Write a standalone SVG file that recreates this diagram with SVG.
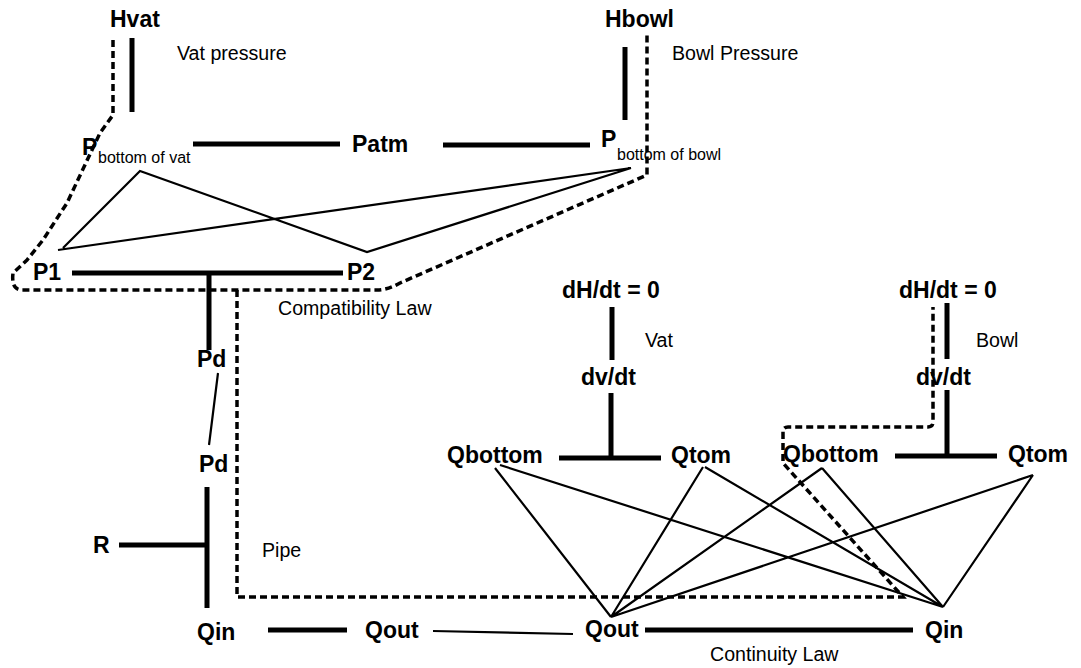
<svg xmlns="http://www.w3.org/2000/svg" width="1081" height="668" viewBox="0 0 1081 668">
<style>
.b{font-family:"Liberation Sans",Arial,sans-serif;font-weight:bold;font-size:23px;fill:#000}
.r{font-family:"Liberation Sans",Arial,sans-serif;font-size:19.6px;fill:#000}
.s{font-family:"Liberation Sans",Arial,sans-serif;font-size:16px;fill:#000}
.k{stroke:#000;stroke-width:5;fill:none}
.t{stroke:#000;stroke-width:2.2;fill:none}
.d{stroke:#000;stroke-width:3.5;fill:none;stroke-dasharray:7 4}
</style>
<rect width="1081" height="668" fill="#fff"/>
<g id="connectors">
<path class="k" d="M132,38V112M625,47V120M193,144H340M443,145H590M72,273H343M209,273V350M207,487V608M119,545H207M268,630H347M645,630H913M612,307V360M611,393V458M559,458H661M947,303V359M947,390V456M895,456H997"/>
<path class="t" d="M63,248L140,171L367,252L631,168M58,250L631,168"/>
<path class="t" stroke-width="1.5" d="M218,373L209,445"/>
<path class="t" stroke-width="2" d="M433,631L573,634"/>
<path class="t" d="M495,468L611,617M500,465L943,607M703,467L611,617M705,467L943,607M822,468L611,617M822,468L943,607M1033,475L611,617M1033,475L943,607"/>
<path class="d" d="M113,40V115L100,133L67,203L43,240L27,260L13,273Q11,290 22,290H377Q388,290 400,283L647,175V33"/>
<path class="d" d="M237,290V597H903L783,463V432Q783,427 788,427H928Q933,427 933,422V307"/>
</g>
<g id="n-hvat"><text class="b" x="110" y="27">Hvat</text></g>
<g id="n-hbowl"><text class="b" x="605" y="27">Hbowl</text></g>
<g id="l-vatpressure"><text class="r" x="177" y="60">Vat pressure</text></g>
<g id="l-bowlpressure"><text class="r" x="672" y="60">Bowl Pressure</text></g>
<g id="n-pvat"><text class="b" x="82" y="155">P</text><text class="s" x="98" y="163">bottom of vat</text></g>
<g id="n-patm"><text class="b" x="352" y="152">Patm</text></g>
<g id="n-pbowl"><text class="b" x="601" y="147">P</text><text class="s" x="617" y="160">bottom of bowl</text></g>
<g id="n-p1"><text class="b" x="33" y="280">P1</text></g>
<g id="n-p2"><text class="b" x="347" y="280">P2</text></g>
<g id="l-compat"><text class="r" x="278" y="315">Compatibility Law</text></g>
<g id="n-pd1"><text class="b" x="197" y="367">Pd</text></g>
<g id="n-pd2"><text class="b" x="199" y="472">Pd</text></g>
<g id="n-r"><text class="b" x="93" y="553">R</text></g>
<g id="l-pipe"><text class="r" x="262" y="557">Pipe</text></g>
<g id="n-qin1"><text class="b" x="197" y="640">Qin</text></g>
<g id="n-qout1"><text class="b" x="365" y="638">Qout</text></g>
<g id="n-qout2"><text class="b" x="585" y="637">Qout</text></g>
<g id="n-qin2"><text class="b" x="925" y="638">Qin</text></g>
<g id="l-continuity"><text class="r" x="710" y="661">Continuity Law</text></g>
<g id="n-dhdt1"><text class="b" x="562" y="298">dH/dt = 0</text></g>
<g id="l-vat"><text class="r" x="645" y="347">Vat</text></g>
<g id="n-dvdt1"><text class="b" x="581" y="385">dv/dt</text></g>
<g id="n-qbottom1"><text class="b" x="447" y="463">Qbottom</text></g>
<g id="n-qtom1"><text class="b" x="671" y="463">Qtom</text></g>
<g id="n-dhdt2"><text class="b" x="899" y="298">dH/dt = 0</text></g>
<g id="l-bowl"><text class="r" x="976" y="347">Bowl</text></g>
<g id="n-dvdt2"><text class="b" x="916" y="385">dv/dt</text></g>
<g id="n-qbottom2"><text class="b" x="783" y="462">Qbottom</text></g>
<g id="n-qtom2"><text class="b" x="1008" y="462">Qtom</text></g>
</svg>
